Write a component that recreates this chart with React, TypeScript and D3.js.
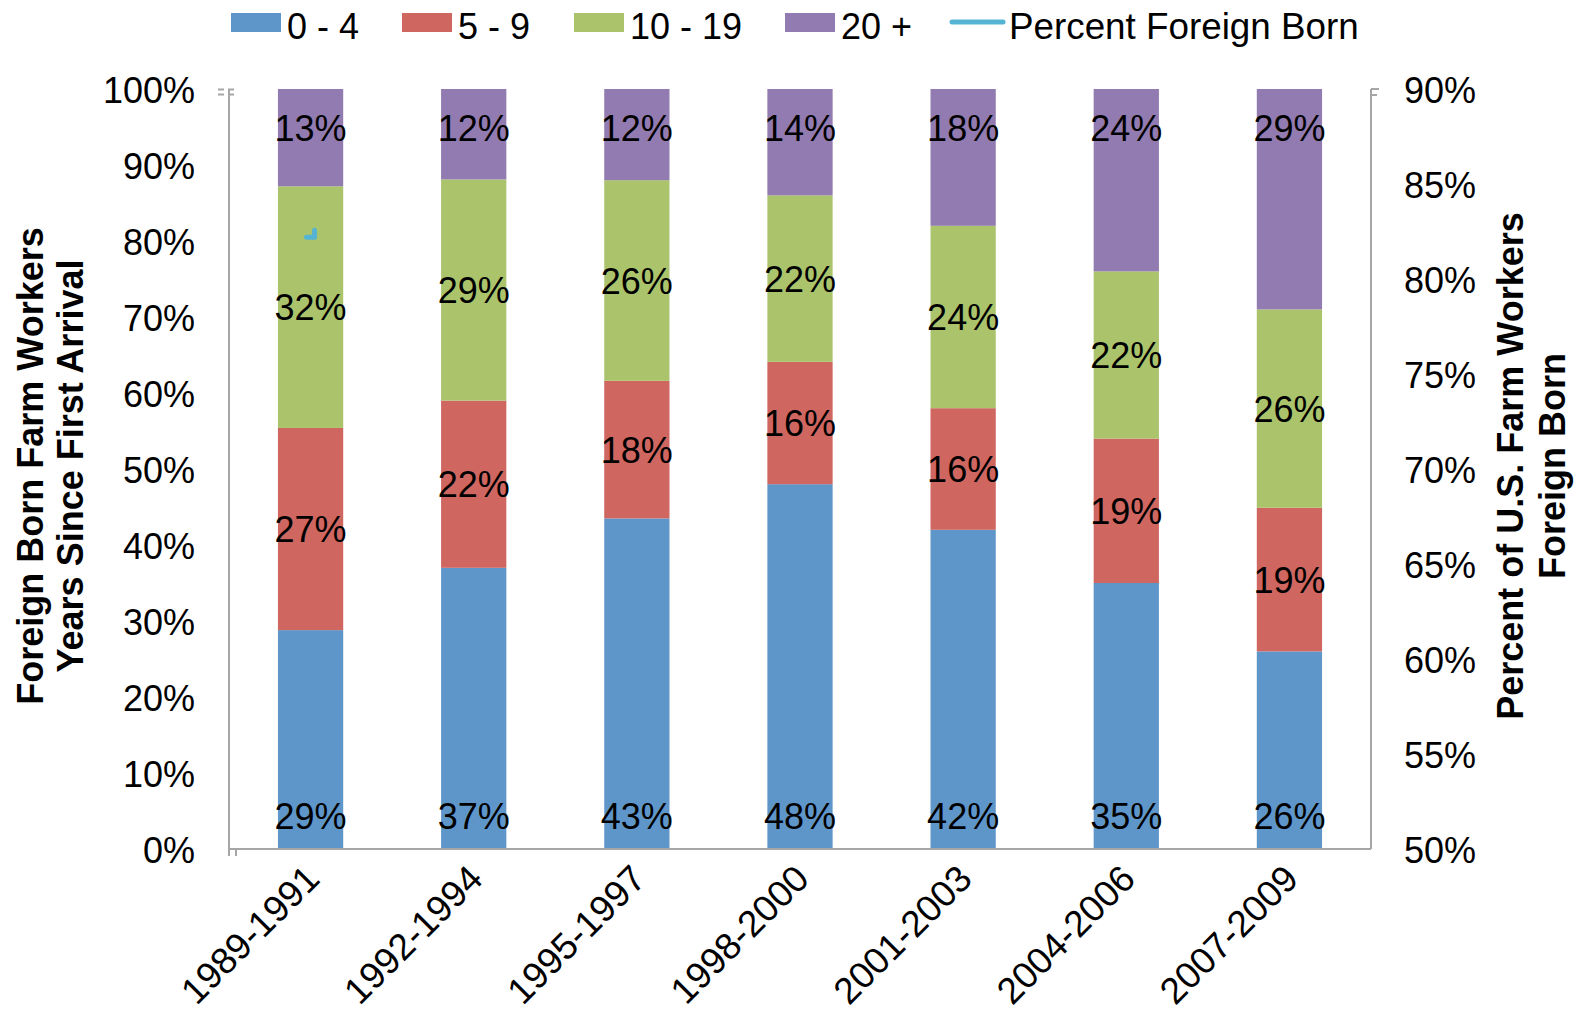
import React from "react";
import * as d3 from "d3";

const categories = ["1989-1991", "1992-1994", "1995-1997", "1998-2000", "2001-2003", "2004-2006", "2007-2009"];
const years0to4 = [28.8, 37.0, 43.5, 48.0, 42.0, 35.0, 26.0];
const years5to9 = [26.6, 22.0, 18.1, 16.1, 16.0, 19.0, 18.9];
const years10to19 = [31.8, 29.1, 26.4, 21.9, 24.0, 22.0, 26.1];
const years20plus = [12.8, 11.9, 12.0, 14.0, 18.0, 24.0, 29.0];
const labels0to4 = ["29%", "37%", "43%", "48%", "42%", "35%", "26%"];
const labels5to9 = ["27%", "22%", "18%", "16%", "16%", "19%", "19%"];
const labels10to19 = ["32%", "29%", "26%", "22%", "24%", "22%", "26%"];
const labels20plus = ["13%", "12%", "12%", "14%", "18%", "24%", "29%"];
const percentForeignBorn = [82.2];
const leftTicks = [0, 10, 20, 30, 40, 50, 60, 70, 80, 90, 100];
const rightTicks = [50, 55, 60, 65, 70, 75, 80, 85, 90];

const seriesNames = ["0 - 4", "5 - 9", "10 - 19", "20 +"];
const seriesColors = ["#5F96CA", "#CF665F", "#ABC46C", "#927BB0"];
const lineColor = "#55B3D3";
const axisColor = "#A6A6A6";
const FONT = "'Liberation Sans', Arial, sans-serif";

export default function App() {
  const W = 1589, H = 1022;
  const left = 229, right = 1371, top = 89, bottom = 849;
  const x = d3.scaleBand<string>().domain(categories).range([left, right]).paddingInner(0.6).paddingOuter(0.3);
  const y = d3.scaleLinear().domain([0, 100]).range([bottom, top]);
  const yR = d3.scaleLinear().domain([50, 90]).range([bottom, top]);

  const seriesLabels = [labels0to4, labels5to9, labels10to19, labels20plus];
  const stackData = categories.map((c, i) => ({
    cat: c,
    s0: years0to4[i],
    s1: years5to9[i],
    s2: years10to19[i],
    s3: years20plus[i],
  }));
  const stack = d3.stack<any>().keys(["s0", "s1", "s2", "s3"])(stackData);

  const legendItems = [
    { x: 231, w: 50 },
    { x: 402, w: 50 },
    { x: 574, w: 50 },
    { x: 785, w: 50 },
  ];

  const bw = x.bandwidth();

  return (
    <svg width={W} height={H} style={{ position: "absolute", left: 0, top: 0, background: "#fff" }} fontFamily={FONT}>
      {stack.map((layer, si) =>
        layer.map((d, i) => (
          <rect
            key={`b${si}-${i}`}
            x={x(categories[i])!}
            y={y(d[1])}
            width={bw}
            height={y(d[0]) - y(d[1])}
            fill={seriesColors[si]}
          />
        ))
      )}
      <line x1={left} x2={left} y1={top} y2={bottom + 7} stroke={axisColor} strokeWidth={2} />
      <line x1={left} x2={right} y1={bottom} y2={bottom} stroke={axisColor} strokeWidth={2} />
      <line x1={right} x2={right} y1={top} y2={bottom} stroke={axisColor} strokeWidth={2} />
      <line x1={left + 7} x2={left + 7} y1={bottom} y2={bottom + 7} stroke={axisColor} strokeWidth={2} />
      <line x1={left - 11} x2={left + 8} y1={y(100) + 0.5} y2={y(100) + 0.5} stroke={axisColor} strokeWidth={2} strokeDasharray="6 4" />
      <line x1={left - 11} x2={left + 8} y1={y(100) + 5.5} y2={y(100) + 5.5} stroke={axisColor} strokeWidth={2} strokeDasharray="6 4" />
      <line x1={right} x2={right + 8} y1={yR(90)} y2={yR(90)} stroke={axisColor} strokeWidth={2} />
      <line x1={right} x2={right + 6} y1={yR(90) + 6} y2={yR(90) + 6} stroke={axisColor} strokeWidth={2} />

      {leftTicks.map((t) => (
        <text key={`lt${t}`} x={195} y={y(t)} dy="0.4em" textAnchor="end" fontSize={36} fill="#000">
          {t}%
        </text>
      ))}
      {rightTicks.map((t) => (
        <text key={`rt${t}`} x={1404} y={yR(t)} dy="0.4em" textAnchor="start" fontSize={36} fill="#000">
          {t}%
        </text>
      ))}
      {categories.map((c) => {
        const cx = x(c)! + bw / 2 + 11;
        const cy = bottom + 32;
        return (
          <text key={`c${c}`} x={cx} y={cy} textAnchor="end" fontSize={37} fill="#000" transform={`rotate(-45 ${cx} ${cy})`}>
            {c}
          </text>
        );
      })}

      {stack.map((layer, si) =>
        layer.map((d, i) => {
          const cx = x(categories[i])! + bw / 2;
          let ty: number;
          if (si === 0) ty = bottom - 20;
          else if (si === 3) ty = top + 52;
          else ty = (y(d[0]) + y(d[1])) / 2 + 13;
          return (
            <text key={`l${si}-${i}`} x={cx} y={ty} textAnchor="middle" fontSize={36} fill="#000">
              {seriesLabels[si][i]}
            </text>
          );
        })
      )}

      {percentForeignBorn.map((v, i) => {
        const px = x(categories[i])! + bw / 2 + 4;
        const py = yR(v);
        return (
          <path
            key={`pf${i}`}
            d={`M${px - 8},${py} L${px},${py} L${px},${py - 7}`}
            fill="none"
            stroke={lineColor}
            strokeWidth={5}
            strokeLinecap="round"
            strokeLinejoin="round"
          />
        );
      })}

      {legendItems.map((it, i) => (
        <g key={`lg${i}`}>
          <rect x={it.x} y={13} width={it.w} height={19} fill={seriesColors[i]} />
          <text x={it.x + it.w + 6} y={39} fontSize={36} fill="#000">
            {seriesNames[i]}
          </text>
        </g>
      ))}
      <line x1={952} x2={1003} y1={22} y2={22} stroke={lineColor} strokeWidth={5} strokeLinecap="round" />
      <text x={1009} y={39} fontSize={36.8} fill="#000">
        Percent Foreign Born
      </text>

      <g transform={`translate(0 ${(top + bottom) / 2 - 3}) rotate(-90)`}>
        <text x={0} y={43} textAnchor="middle" fontSize={36} fontWeight="bold" fill="#000">
          Foreign Born Farm Workers
        </text>
        <text x={0} y={83} textAnchor="middle" fontSize={36} fontWeight="bold" fill="#000">
          Years Since First Arrival
        </text>
      </g>
      <g transform={`translate(0 ${(top + bottom) / 2 - 3}) rotate(-90)`}>
        <text x={0} y={1523} textAnchor="middle" fontSize={36} fontWeight="bold" fill="#000">
          Percent of U.S. Farm Workers
        </text>
        <text x={0} y={1565} textAnchor="middle" fontSize={36} fontWeight="bold" fill="#000">
          Foreign Born
        </text>
      </g>
    </svg>
  );
}
